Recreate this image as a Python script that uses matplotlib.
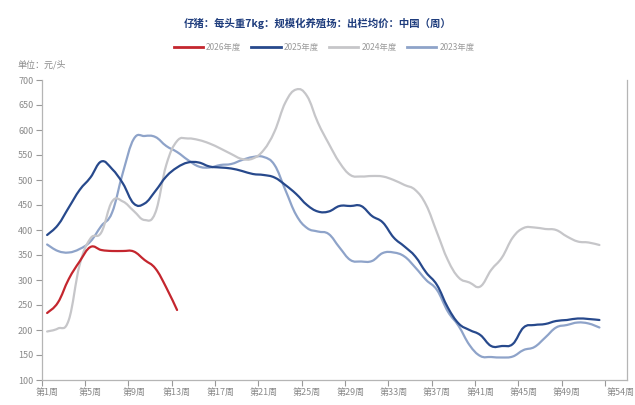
import numpy as np
import matplotlib.pyplot as plt
from matplotlib.path import Path
from matplotlib.patches import PathPatch
from matplotlib.lines import Line2D

plt.rcParams['font.family'] = ['Noto Sans CJK SC', 'DejaVu Sans']

weeks = list(range(1, 53))

# 2026年度 只有前13周
y2026 = [234, 255, 302, 337, 366, 360, 358, 358, 357, 340, 323, 285, 240]

y2025 = [390, 410, 445, 480, 505, 537, 522, 493, 453, 453,
         478, 507, 525, 535, 535, 527, 525, 523, 518, 512,
         510, 505, 490, 472, 450, 437, 437, 448, 448, 448,
         428, 415, 385, 367, 347, 315, 290, 245, 213, 200,
         190, 168, 168, 172, 205, 210, 212, 218, 220, 223,
         222, 220]

y2024 = [197, 203, 220, 330, 383, 395, 457, 457, 438, 420,
         435, 530, 578, 583, 580, 573, 563, 552, 542, 543,
         560, 597, 655, 681, 668, 615, 573, 535, 510, 507,
         508, 507, 500, 490, 480, 450, 395, 340, 305, 295,
         287, 320, 345, 385, 404, 405, 402, 400, 387, 377,
         375, 370]

y2023 = [371, 358, 355, 362, 377, 408, 435, 515, 582, 588,
         586, 568, 556, 540, 527, 525, 530, 532, 540, 546,
         546, 530, 480, 430, 404, 397, 392, 365, 340, 337,
         338, 354, 355, 347, 325, 300, 280, 237, 208, 170,
         148, 146, 145, 147, 160, 166, 185, 205, 210, 215,
         213, 205]

series = [
    ('2026年度', y2026, '#c4262e'),
    ('2025年度', y2025, '#27498c'),
    ('2024年度', y2024, '#c6c6c9'),
    ('2023年度', y2023, '#8ea3c9'),
]

tick_weeks = [1, 5, 9, 13, 17, 21, 25, 29, 33, 37, 41, 45, 49, 54]
yticks = [100, 150, 200, 250, 300, 350, 400, 450, 500, 550, 600, 650, 700]


def smooth_path(xs, ys, k=0.2):
    # 平滑折线：相邻点之间用三次贝塞尔连接
    xs = np.asarray(xs, float)
    ys = np.asarray(ys, float)
    n = len(xs)
    verts = [(xs[0], ys[0])]
    codes = [Path.MOVETO]
    for i in range(n - 1):
        p0 = i - 1 if i > 0 else i
        p3 = i + 2 if i + 2 < n else i + 1
        c1 = (xs[i] + k * (xs[i + 1] - xs[p0]), ys[i] + k * (ys[i + 1] - ys[p0]))
        c2 = (xs[i + 1] - k * (xs[p3] - xs[i]), ys[i + 1] - k * (ys[p3] - ys[i]))
        verts += [c1, c2, (xs[i + 1], ys[i + 1])]
        codes += [Path.CURVE4] * 3
    return Path(verts, codes)


fig = plt.figure(figsize=(6.35, 4.05), dpi=100)
ax = fig.add_axes([41.7 / 635, 1 - 380 / 405, (626.5 - 41.7) / 635, 300 / 405])

# 先画旧年份，新年份压在上面
for name, vals, color in reversed(series):
    ax.add_patch(PathPatch(smooth_path(weeks[:len(vals)], vals), fill=False,
                           edgecolor=color, lw=1.6, capstyle='round',
                           joinstyle='round'))

ax.set_xlim(0.5, 54.5)
ax.set_ylim(100, 700)
ax.set_yticks(yticks)
ax.set_yticklabels([str(v) for v in yticks])

# 刻度线在类目边界上，标签在类目中间
ax.set_xticks([w - 0.5 for w in range(1, 54, 4)])
ax.set_xticklabels([])
ax.set_xticks(tick_weeks, minor=True)
ax.set_xticklabels(['第%d周' % w for w in tick_weeks], minor=True)
ax.tick_params(axis='x', which='minor', length=0, pad=6)
ax.tick_params(axis='x', which='major', length=4, width=0.8, color='#999999')
ax.tick_params(axis='y', length=4, width=0.8, color='#999999', pad=2)
ax.tick_params(axis='both', which='both', labelsize=6.5, labelcolor='#8a8a8a')

for side in ['left', 'bottom', 'right']:
    ax.spines[side].set_color('#b5b5b5')
    ax.spines[side].set_linewidth(0.9)
ax.spines['top'].set_visible(False)

fig.text(0.5, 1 - 23 / 405, '仔猪：每头重7kg：规模化养殖场：出栏均价：中国（周）',
         ha='center', va='center', fontsize=7.5, fontweight='bold', color='#1f3d7d')
fig.text(17 / 635, 1 - 65 / 405, '单位：元/头', ha='left', va='center',
         fontsize=6.5, color='#8a8a8a')

handles = [Line2D([], [], color=c, lw=2.0) for _, _, c in series]
labels = [name for name, _, _ in series]
leg = fig.legend(handles, labels,
                 loc='center', bbox_to_anchor=(324 / 635, 1 - 47 / 405),
                 ncol=4, frameon=False, fontsize=6, handlelength=3.5,
                 handletextpad=0.4, columnspacing=1.2)
for t in leg.get_texts():
    t.set_color('#9a9a9a')

fig.savefig('out.png', dpi=100)
